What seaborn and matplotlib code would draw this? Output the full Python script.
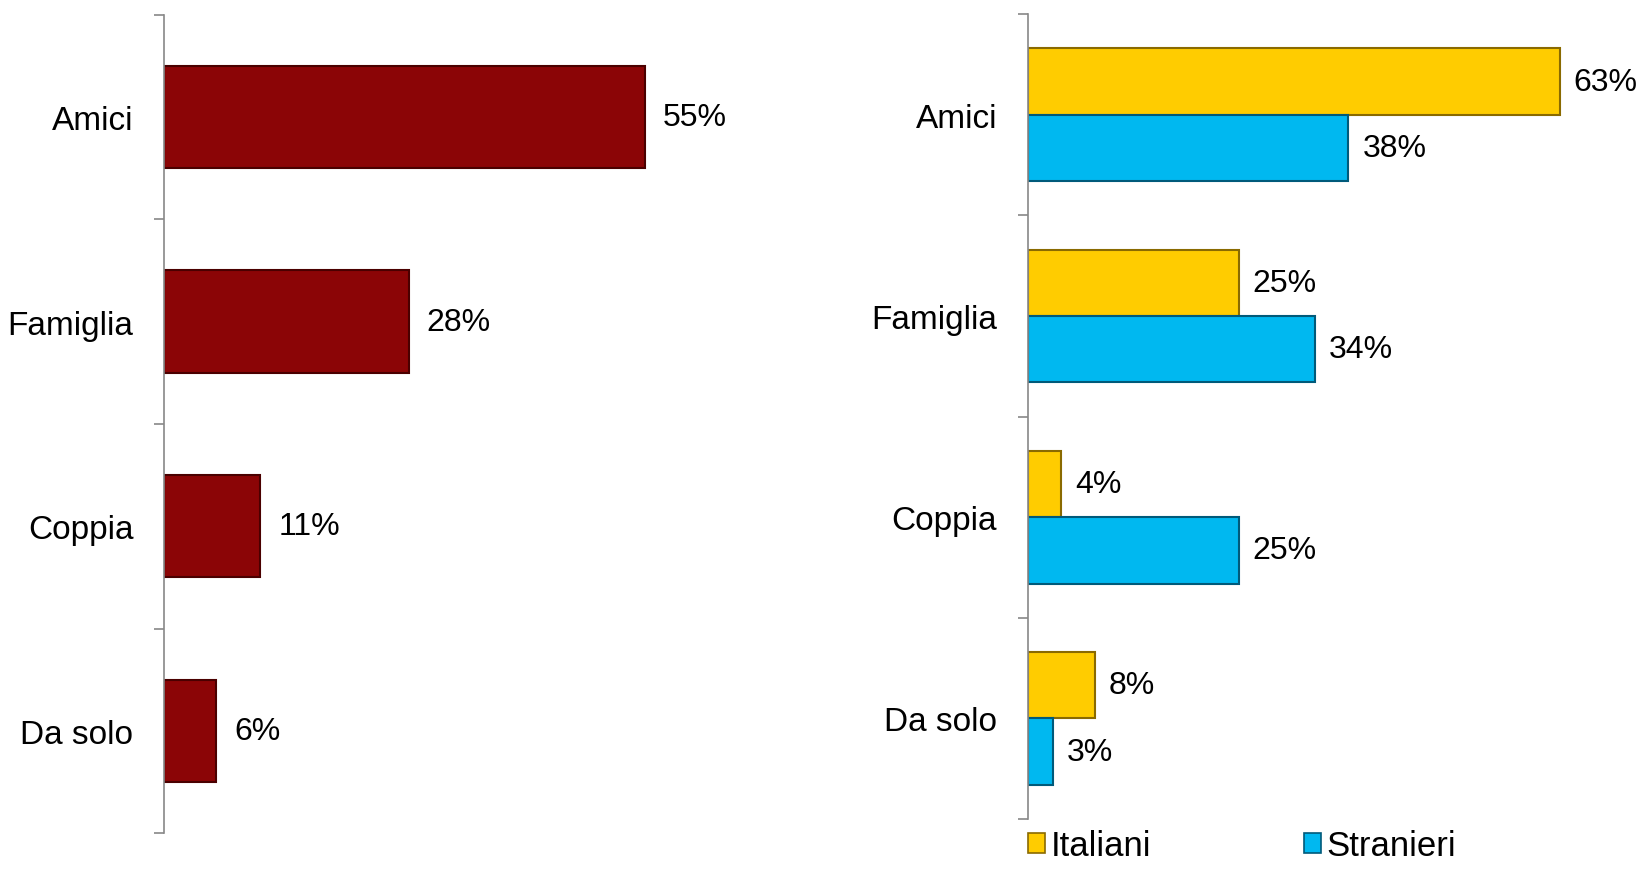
import matplotlib.pyplot as plt
import seaborn as sns
import pandas as pd
from matplotlib.patches import Patch

categories = ['Amici', 'Famiglia', 'Coppia', 'Da solo']
totale = [55, 28, 11, 6]
italiani = [63, 25, 4, 8]
stranieri = [38, 34, 25, 3]
gruppi = ['Italiani', 'Stranieri']

sns.set_style('white')
plt.rcParams['font.family'] = ['Liberation Sans', 'DejaVu Sans']
plt.rcParams['font.size'] = 23
plt.rcParams['text.color'] = 'black'
plt.rcParams['ytick.labelcolor'] = 'black'

fig = plt.figure(figsize=(16.39, 8.70), dpi=100)
ax1 = fig.add_axes([0.100, 0.041, 0.3735, 0.941])
ax2 = fig.add_axes([0.627, 0.0575, 0.3606, 0.925])

df1 = pd.DataFrame({'cat': categories, 'val': totale})
sns.barplot(data=df1, y='cat', x='val', orient='h', color='#8B0506',
            width=0.5, ax=ax1, edgecolor='#4A0000', linewidth=1.5, saturation=1)

df2 = pd.DataFrame({
    'cat': categories * 2,
    'val': italiani + stranieri,
    'gruppo': [gruppi[0]] * 4 + [gruppi[1]] * 4,
})
palette = {'Italiani': '#FFCC00', 'Stranieri': '#00B8F0'}
sns.barplot(data=df2, y='cat', x='val', hue='gruppo', orient='h', palette=palette,
            width=0.66, ax=ax2, linewidth=1.5, saturation=1, legend=False)
edges = ['#8A6A00', '#005A7A']
for cont, ec in zip(ax2.containers, edges):
    for p in cont:
        p.set_edgecolor(ec)

for ax, pad in ((ax1, 13), (ax2, 10)):
    for cont in ax.containers:
        ax.bar_label(cont, labels=[f'{int(v)}%' for v in cont.datavalues],
                     padding=pad, fontsize=23, color='black')
    ax.set_xlim(0, 70)
    ax.set_ylim(3.5, -0.5)
    ax.set_xlabel('')
    ax.set_ylabel('')
    ax.set_xticks([])
    ax.set_yticks([-0.5, 0.5, 1.5, 2.5, 3.5])
    ax.set_yticklabels([])
    ax.set_yticks(range(len(categories)), minor=True)
    ax.set_yticklabels(categories, minor=True, fontsize=24, color='black')
    ax.tick_params(axis='y', which='major', length=7, width=1.2, color='#888888', left=True)
    ax.tick_params(axis='y', which='minor', length=0, pad=22)
    for s in ('top', 'right', 'bottom'):
        ax.spines[s].set_visible(False)
    ax.spines['left'].set_color('#888888')
    ax.spines['left'].set_linewidth(1.2)

handles = [Patch(facecolor=palette[g], edgecolor=e, linewidth=1.2) for g, e in zip(gruppi, edges)]
fig.legend(handles, gruppi, loc='lower left', bbox_to_anchor=(0.608, -0.028), ncol=2,
           frameon=False, fontsize=25, handlelength=0.5, handleheight=0.5,
           handletextpad=0.15, columnspacing=4.4)

fig.savefig('out.png', dpi=100)
